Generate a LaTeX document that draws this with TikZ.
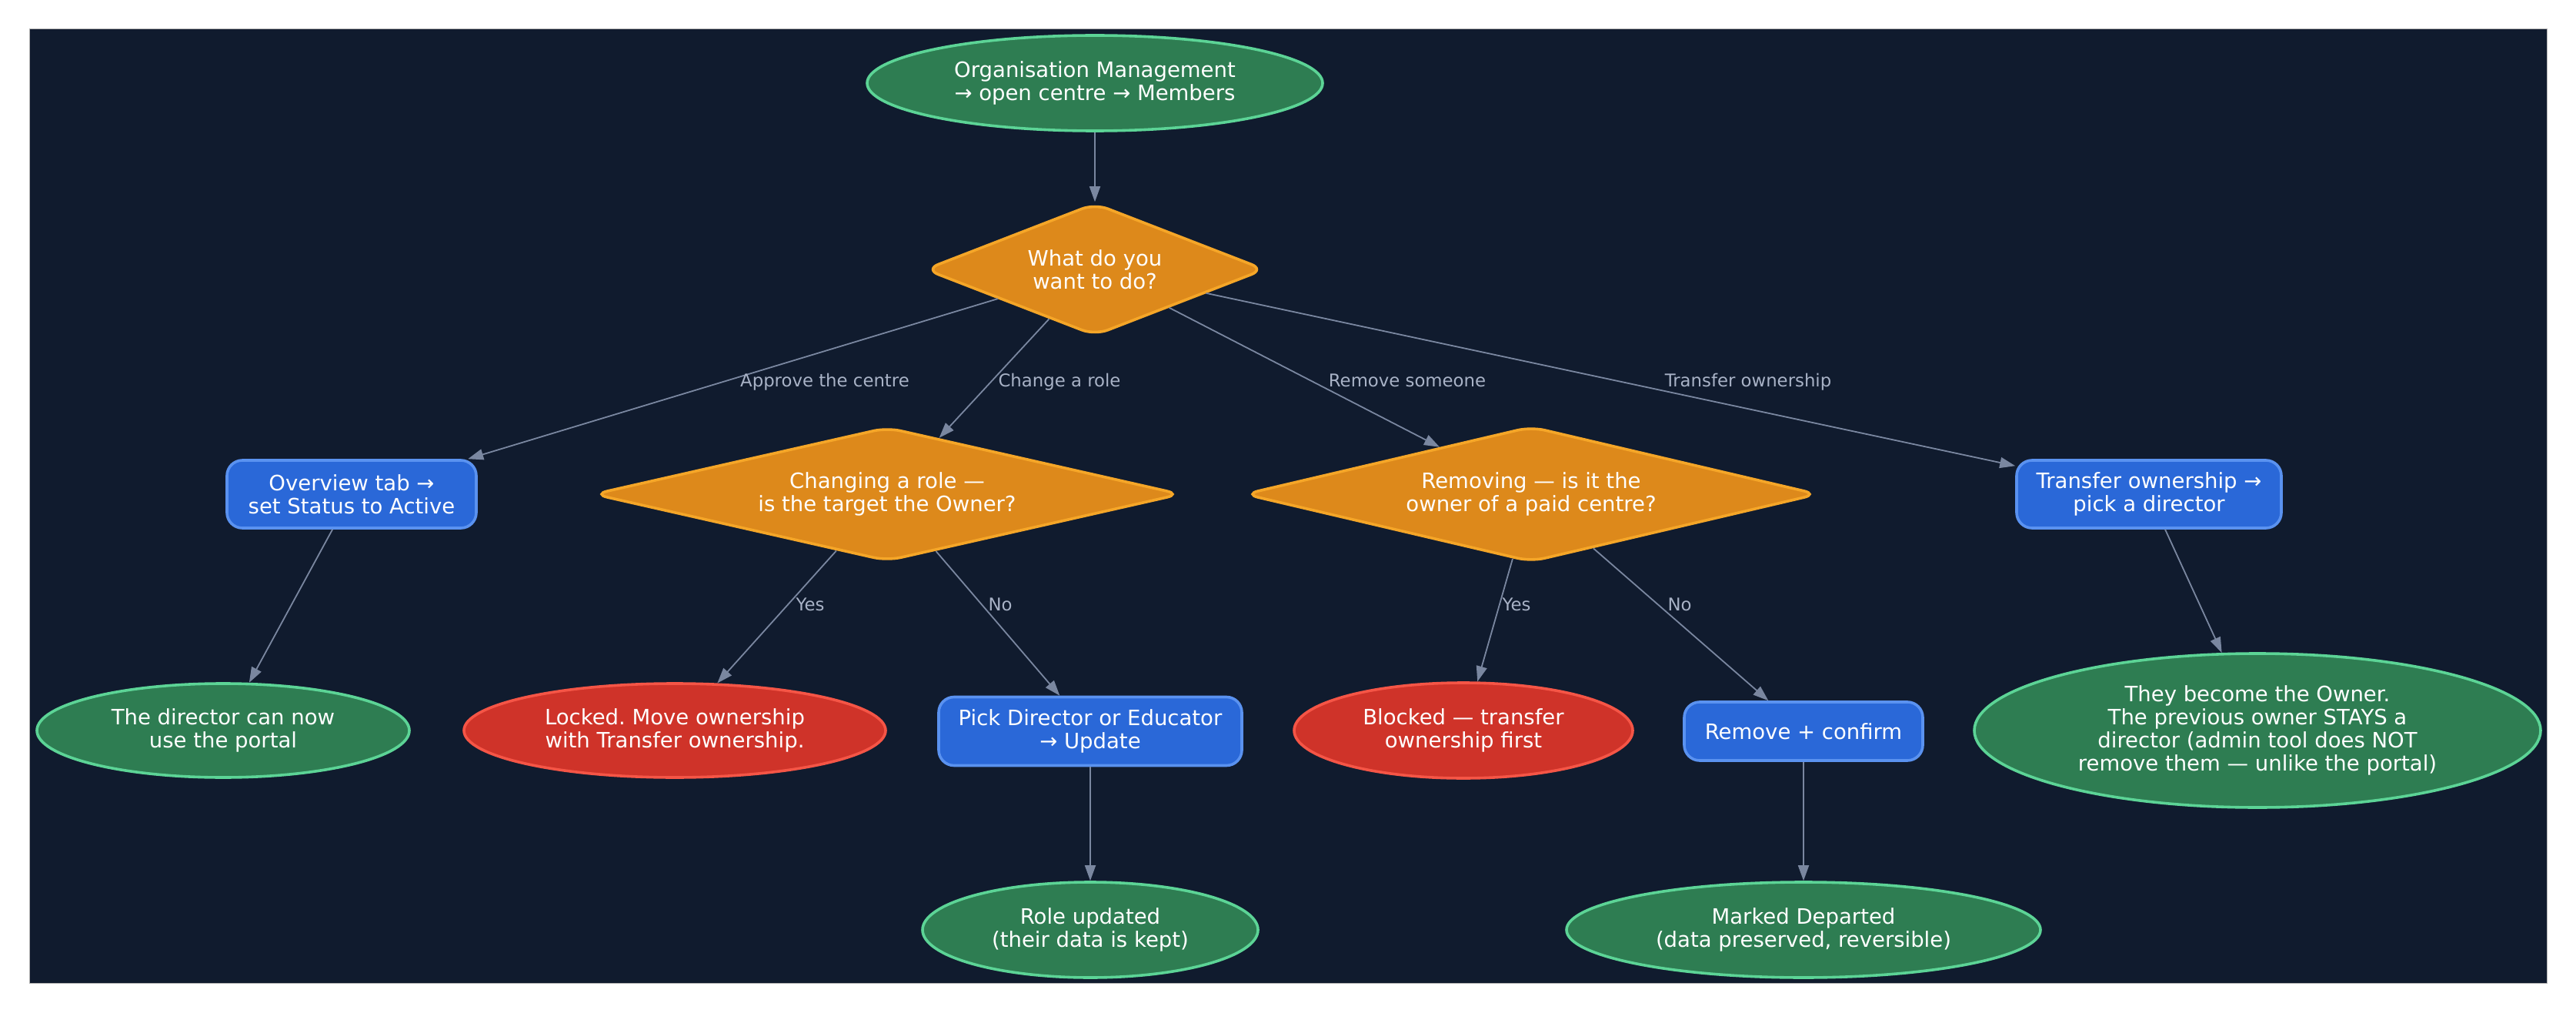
\documentclass[tikz,border=0pt]{standalone}
\usepackage{fontspec}
\setmainfont{DejaVu Sans}
\frenchspacing
\usetikzlibrary{shapes.geometric,arrows.meta}
\definecolor{bgc}{RGB}{16,27,46}
\definecolor{gfill}{RGB}{46,125,82}
\definecolor{gstroke}{RGB}{92,212,150}
\definecolor{ofill}{RGB}{221,137,27}
\definecolor{ostroke}{RGB}{245,166,40}
\definecolor{bfill}{RGB}{42,104,216}
\definecolor{bstroke}{RGB}{90,146,240}
\definecolor{rfill}{RGB}{207,51,41}
\definecolor{rstroke}{RGB}{245,85,70}
\definecolor{edgec}{RGB}{122,135,160}
\definecolor{lblc}{RGB}{168,178,198}
\newcommand\nfont{\fontsize{13.75pt}{14.9pt}\selectfont}
\newcommand\lfont{\fontsize{11.4pt}{13pt}\selectfont}
\begin{document}
\begin{tikzpicture}[x=1pt,y=1pt,
  base/.style={line width=1.8pt, text=white, inner sep=0pt, align=center, font=\nfont},
  gell/.style={base, ellipse, draw=gstroke, fill=gfill},
  rell/.style={base, ellipse, draw=rstroke, fill=rfill},
  odia/.style={base, diamond, aspect=4, rounded corners=9pt, draw=ostroke, fill=ofill},
  bbox/.style={base, rectangle, rounded corners=10pt, draw=bstroke, fill=bfill},
  edge/.style={draw=edgec, line width=0.9pt, -{Triangle[length=10pt,width=7pt]}},
  lbl/.style={text=lblc, font=\lfont, inner sep=0pt, anchor=base}
]
\useasboundingbox (0,0) rectangle (1674,-658);
\fill[bgc] (19,-19) rectangle (1655,-638.5);
\draw[gray!60, line width=0.5pt] (19,-19) rectangle (1655,-638.5);

\node[gell, minimum width=296pt, minimum height=62pt] (top) at (711.5,-54) {Organisation Management\\→ open centre → Members};
\node[odia, minimum width=221pt, minimum height=86pt] (what) at (711.5,-175) {What do you\\want to do?};
\node[bbox, minimum width=162pt, minimum height=44pt] (overview) at (228.5,-321) {Overview tab →\\set Status to Active};
\node[odia, minimum width=382pt, minimum height=87pt] (chg) at (576.5,-321) {Changing a role —\\is the target the Owner?};
\node[odia, minimum width=373pt, minimum height=88pt] (rem) at (995,-321) {Removing — is it the\\owner of a paid centre?};
\node[bbox, minimum width=172pt, minimum height=44pt] (transfer) at (1396.5,-321) {Transfer ownership →\\pick a director};
\node[gell, minimum width=242pt, minimum height=61pt] (dir) at (145,-474.5) {The director can now\\use the portal};
\node[rell, minimum width=274pt, minimum height=61pt] (locked) at (438.5,-474.5) {Locked. Move ownership\\with Transfer ownership.};
\node[bbox, minimum width=197pt, minimum height=44.5pt] (pick) at (708.5,-475) {Pick Director or Educator\\→ Update};
\node[rell, minimum width=220pt, minimum height=62pt] (blocked) at (951,-474.5) {Blocked — transfer\\ownership first};
\node[bbox, minimum width=155pt, minimum height=38pt] (confirm) at (1172,-475) {Remove + confirm};
\node[gell, minimum width=368pt, minimum height=100pt] (owner) at (1467,-474.5) {They become the Owner.\\The previous owner STAYS a\\director (admin tool does NOT\\remove them — unlike the portal)};
\node[gell, minimum width=218pt, minimum height=62pt] (role) at (708.5,-604) {Role updated\\(their data is kept)};
\node[gell, minimum width=308pt, minimum height=62pt] (departed) at (1172,-604) {Marked Departed\\(data preserved, reversible)};

\draw[edge] (top) -- (what);
\draw[edge] (what) -- (overview);
\draw[edge] (what) -- (chg);
\draw[edge] (what) -- (rem);
\draw[edge] (what) -- (transfer);
\draw[edge] (overview) -- (dir);
\draw[edge] (chg) -- (locked);
\draw[edge] (chg) -- (pick);
\draw[edge] (rem) -- (blocked);
\draw[edge] (rem) -- (confirm);
\draw[edge] (pick) -- (role);
\draw[edge] (confirm) -- (departed);
\draw[edge] (transfer) -- (owner);

\node[lbl] (l1) at (536,-251) {Approve the centre};
\node[lbl] (l2) at (688.5,-251) {Change a role};
\node[lbl] (l3) at (914.5,-251) {Remove someone};
\node[lbl] (l4) at (1136,-251) {Transfer ownership};
\node[lbl] (l5) at (526.5,-396.5) {Yes};
\node[lbl] (l6) at (650,-396.5) {No};
\node[lbl] (l7) at (985.5,-396.5) {Yes};
\node[lbl] (l8) at (1091.5,-396.5) {No};
\end{tikzpicture}
\end{document}
